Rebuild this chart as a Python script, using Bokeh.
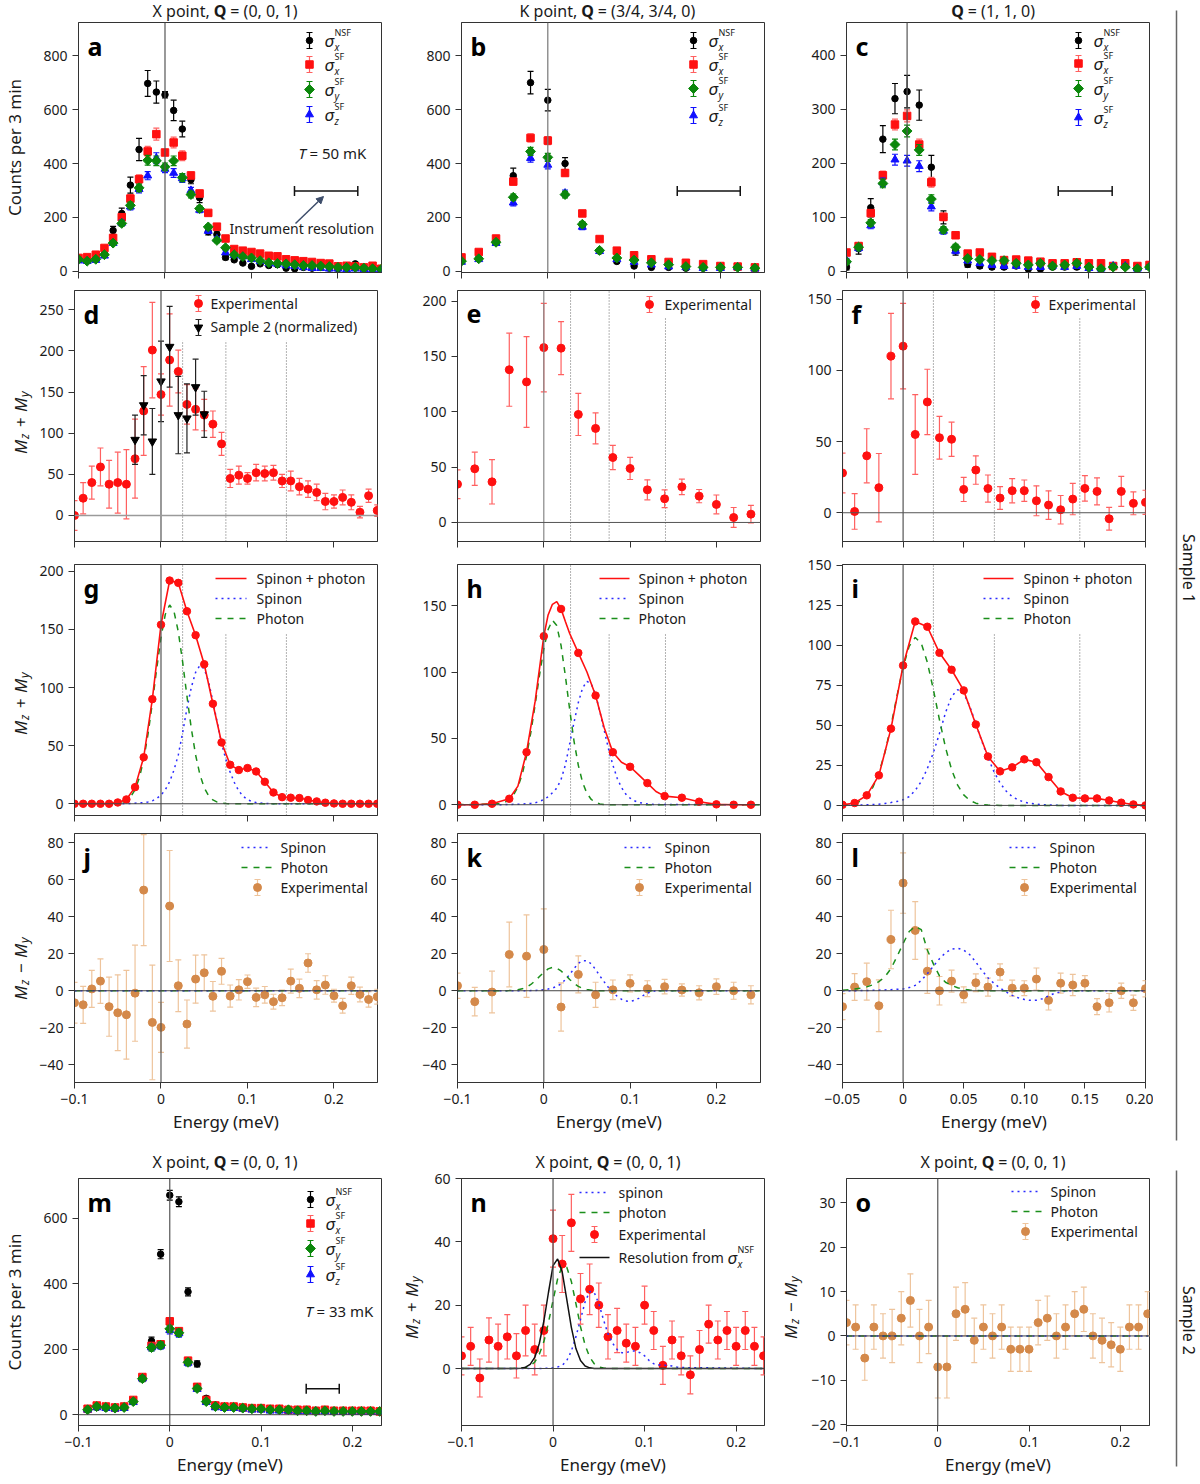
import numpy as np
from bokeh.plotting import figure
from bokeh.models import (Range1d, FixedTicker, Label, Span, Arrow, NormalHead,
                          CustomJSTickFormatter)
from bokeh.layouts import row, column
from bokeh.embed import file_html
from bokeh.resources import INLINE

FONT = "Noto Sans"
AXC = "#333333"
TXT = "#1a1a1a"
BLK = "#000000"
RED = "#ff1010"
RED_E = "#ff6060"
GRN = "#0b870b"
BLU = "#1010ff"
ORG = "#d4894a"
ORG_E = "#eec49c"
DOT = "#666666"
LBLU = "#2a2aff"
LGRN = "#1b8f1b"

# ======================= DATA =======================
E1 = [-0.10, -0.09, -0.08, -0.07, -0.06, -0.05, -0.04, -0.03, -0.02, -0.01,
      0.00, 0.01, 0.02, 0.03, 0.04, 0.05, 0.06, 0.07, 0.08, 0.09,
      0.10, 0.11, 0.12, 0.13, 0.14, 0.15, 0.16, 0.17, 0.18, 0.19,
      0.20, 0.21, 0.22, 0.23, 0.24, 0.25]
E2 = [-0.10, -0.08, -0.06, -0.04, -0.02, 0.00, 0.02, 0.04, 0.06, 0.08,
      0.10, 0.12, 0.14, 0.16, 0.18, 0.20, 0.22, 0.24]
E3 = [-0.05, -0.04, -0.03, -0.02, -0.01, 0.00, 0.01, 0.02, 0.03, 0.04,
      0.05, 0.06, 0.07, 0.08, 0.09, 0.10, 0.11, 0.12, 0.13, 0.14,
      0.15, 0.16, 0.17, 0.18, 0.19, 0.20]
E5 = [-0.10, -0.09, -0.08, -0.07, -0.06, -0.05, -0.04, -0.03, -0.02, -0.01,
      0.00, 0.01, 0.02, 0.03, 0.04, 0.05, 0.06, 0.07, 0.08, 0.09,
      0.10, 0.11, 0.12, 0.13, 0.14, 0.15, 0.16, 0.17, 0.18, 0.19,
      0.20, 0.21, 0.22, 0.23]
EM = [-0.09, -0.08, -0.07, -0.06, -0.05, -0.04, -0.03, -0.02, -0.01,
      0.00, 0.01, 0.02, 0.03, 0.04, 0.05, 0.06, 0.07, 0.08, 0.09,
      0.10, 0.11, 0.12, 0.13, 0.14, 0.15, 0.16, 0.17, 0.18, 0.19,
      0.20, 0.21, 0.22, 0.23]
# model-curve energy grids
G1 = [-0.10, -0.05, -0.045, -0.04, -0.035, -0.03, -0.025, -0.02, -0.015, -0.01,
      -0.005, 0.0, 0.005, 0.01, 0.015, 0.02, 0.025, 0.03, 0.035, 0.04,
      0.045, 0.05, 0.055, 0.06, 0.065, 0.07, 0.075, 0.08, 0.085, 0.09,
      0.095, 0.10, 0.105, 0.11, 0.115, 0.12, 0.125, 0.13, 0.25]
G3 = [-0.05, -0.045, -0.04, -0.035, -0.03, -0.025, -0.02, -0.015, -0.01, -0.005,
      0.0, 0.005, 0.01, 0.015, 0.02, 0.025, 0.03, 0.035, 0.04, 0.045,
      0.05, 0.055, 0.06, 0.065, 0.07, 0.075, 0.08, 0.085, 0.09, 0.095,
      0.10, 0.105, 0.11, 0.115, 0.12, 0.125, 0.13, 0.135, 0.14, 0.20]
GN = [-0.10, -0.05, -0.045, -0.04, -0.035, -0.03, -0.025, -0.02, -0.015, -0.01,
      -0.005, 0.0, 0.005, 0.01, 0.015, 0.02, 0.025, 0.03, 0.035, 0.04,
      0.045, 0.05, 0.055, 0.06, 0.065, 0.07, 0.075, 0.08, 0.085, 0.09,
      0.095, 0.10, 0.105, 0.11, 0.115, 0.12, 0.125, 0.13, 0.135, 0.14, 0.23]
ELINE1 = [-0.10, 0.25]
ELINE5 = [-0.10, 0.23]
ZERO2 = [0, 0]

# ---- panel a : X point, sample 1 ----
a_nsf = [50, 45, 48, 65, 152, 215, 320, 452, 697, 665, 655, 597, 528, 340, 273, 147, 137, 52, 43, 31,
         19, 28, 22, 25, 12, 10, 15, 12, 15, 12, 10, 12, 28, 12, 8, 5]
a_nsf_e = [8, 6, 6, 8, 15, 20, 30, 41, 48, 41, 12, 38, 29, 15, 18, 12, 12, 8, 6, 5,
           4, 5, 4, 4, 3, 3, 3, 3, 3, 3, 3, 3, 6, 3, 3, 3]
a_x = [50, 53, 62, 87, 124, 201, 270, 342, 445, 509, 441, 478, 429, 356, 289, 217, 166, 122, 83, 77,
       72, 66, 58, 56, 45, 41, 38, 35, 31, 29, 19, 21, 19, 15, 21, 10]
a_x_e = [6, 6, 7, 8, 10, 12, 14, 16, 19, 22, 8, 20, 18, 12, 12, 8, 8, 7, 6, 6,
         6, 5, 5, 5, 5, 5, 4, 4, 4, 4, 4, 4, 4, 4, 4, 4]
a_y = [45, 38, 45, 62, 105, 178, 245, 310, 412, 410, 388, 410, 348, 285, 233, 165, 115, 88, 62, 55,
       50, 40, 32, 30, 28, 25, 22, 22, 20, 18, 15, 15, 15, 12, 10, 8]
a_y_e = [5, 5, 5, 6, 8, 10, 12, 14, 18, 18, 14, 18, 15, 12, 10, 9, 8, 7, 6, 6,
         5, 5, 5, 5, 4, 4, 4, 4, 4, 4, 4, 4, 4, 4, 4, 4]
a_z = [40, 38, 42, 58, 105, 180, 240, 305, 355, 420, 380, 365, 345, 300, 228, 150, 120, 70, 60, 55,
       45, 38, 30, 28, 22, 20, 15, 12, 12, 10, 10, 8, 10, 8, 8, 5]
a_z_e = [5, 5, 5, 6, 8, 10, 12, 14, 15, 20, 14, 16, 15, 12, 10, 9, 8, 7, 6, 6,
         5, 5, 5, 5, 4, 4, 4, 4, 4, 4, 4, 4, 4, 4, 4, 4]
RES_A = [0.1497, 0.2229]
RES_A_Y = 298

# ---- panel b : K point ----
b_nsf = [40, 48, 108, 355, 700, 635, 400, 170, 75, 37, 20, 15, 15, 12, 12, 12, 15, 10]
b_nsf_e = [6, 7, 10, 28, 42, 40, 22, 12, 8, 6, 5, 4, 4, 4, 4, 4, 6, 4]
b_x = [52, 72, 122, 333, 495, 485, 365, 215, 120, 77, 60, 45, 35, 32, 27, 20, 18, 15]
b_x_e = [5, 6, 8, 12, 15, 15, 12, 10, 8, 7, 6, 5, 5, 5, 5, 4, 4, 4]
b_y = [38, 47, 108, 275, 445, 423, 285, 175, 78, 50, 42, 32, 25, 18, 15, 15, 15, 12]
b_y_e = [5, 6, 8, 12, 15, 15, 12, 10, 8, 7, 6, 5, 5, 5, 5, 4, 4, 4]
b_z = [35, 45, 105, 255, 420, 395, 290, 165, 75, 45, 35, 25, 18, 15, 12, 12, 15, 10]
b_z_e = [5, 6, 8, 12, 15, 15, 12, 10, 8, 7, 6, 5, 5, 5, 5, 4, 4, 4]
RES_B = [0.150, 0.223]
RES_B_Y = 298

# ---- panel c : Q = (1,1,0) ----
c_nsf = [8, 42, 118, 245, 320, 333, 308, 193, 100, 38, 13, 10, 8, 8, 10, 5, 5, 8, 8, 8,
         6, 5, 8, 15, 5, 12]
c_nsf_e = [5, 10, 17, 25, 28, 30, 28, 22, 12, 8, 5, 4, 4, 4, 4, 4, 4, 4, 4, 4,
           4, 4, 4, 6, 4, 5]
c_x = [35, 47, 108, 178, 272, 288, 235, 165, 101, 67, 33, 35, 27, 21, 22, 20, 18, 15, 15, 17,
       15, 15, 10, 15, 10, 12]
c_x_e = [4, 5, 6, 8, 10, 11, 10, 9, 7, 5, 4, 4, 4, 4, 4, 4, 4, 4, 4, 4,
         4, 4, 4, 4, 4, 4]
c_y = [18, 45, 90, 163, 235, 260, 225, 134, 77, 45, 24, 22, 20, 20, 15, 12, 15, 10, 12, 15,
       8, 5, 8, 8, 5, 8]
c_y_e = [4, 5, 6, 8, 10, 11, 10, 8, 6, 5, 4, 4, 4, 4, 4, 4, 4, 4, 4, 4,
         4, 4, 4, 4, 4, 4]
c_z = [20, 43, 85, 165, 207, 205, 195, 120, 75, 38, 20, 15, 12, 10, 10, 8, 8, 10, 8, 10,
       6, 5, 10, 10, 5, 8]
c_z_e = [4, 5, 6, 8, 10, 10, 10, 8, 6, 5, 4, 4, 4, 4, 4, 4, 4, 4, 4, 4,
         4, 4, 4, 4, 4, 4]
RES_C = [0.1247, 0.1692]
RES_C_Y = 149

# ---- panel d ----
d_exp = [0, 21, 40, 59, 38, 40, 38, 69, 127, 201, 147, 189, 175, 135, 129, 122, 111, 87, 45, 49,
         45, 52, 51, 52, 42, 42, 35, 32, 28, 17, 17, 22, 16, 4, 24, 6]
d_err = [18, 19, 20, 23, 29, 37, 42, 48, 54, 58, 25, 56, 26, 24, 25, 19, 16, 14, 11, 11,
         7, 10, 9, 9, 8, 12, 10, 10, 10, 10, 8, 9, 9, 7, 8, 7]
d_s2_E = [-0.03, -0.02, -0.01, 0.00, 0.01, 0.02, 0.03, 0.04, 0.05]
d_s2 = [92, 134, 90, 163, 205, 122, 118, 156, 123]
d_s2_e = [30, 36, 40, 49, 49, 47, 42, 34, 28]
DOTS1 = [0.025, 0.075, 0.145]
DOTS2 = [0.031, 0.0757, 0.141]
DOTS3 = [0.025, 0.0753, 0.1458]

# ---- panel e ----
e_exp = [34.6, 48.5, 36.7, 138, 127, 158, 157.5, 97.6, 85, 58.7, 48.8, 29.5, 21.4, 32.2, 23.8, 16.3, 4.5, 7.5]
e_err = [13, 15, 20, 33, 41, 40, 24, 19, 14, 11, 10, 9, 8, 7, 6, 8.5, 9, 8]

# ---- panel f ----
f_exp = [27.9, 0.9, 40, 17.6, 110, 117, 55, 77.8, 52.7, 51.6, 16.4, 30, 17, 10.3, 15.5, 15.5, 8.4, 5.4,
         2.1, 9.6, 17.1, 15, -4.2, 15, 6.6, 7.3]
f_err = [14, 12.5, 19, 24, 30, 30, 28, 23, 15, 12, 8.5, 10, 9.5, 8, 8.5, 7.5, 10.5, 10,
         10, 11, 9, 9.5, 8, 10.5, 8, 8.5]

# ---- panel g (fit) ----
g_fit = [0, 0, 0, 0, 0, 1.1, 3.7, 14.3, 40, 90, 154, 192, 190, 165.6, 145, 120, 86, 52.7, 33.5, 29,
         30.7, 27.8, 18.9, 9.7, 5.7, 5.2, 4.9, 3.2, 2, 0.9, 0.3, 0, 0, 0, 0, 0]
g_photon = [0, 0.46, 1.2, 2.8, 6.0, 12.1, 22.4, 38.1, 59.8, 86.8, 116, 143, 163, 171, 165.5, 148,
            122, 92.5, 65, 42, 25, 13.7, 7, 3.3, 1.4, 0.6, 0.2, 0, 0, 0, 0, 0, 0, 0, 0, 0, 0, 0, 0]
g_spinon = [0, 0, 0.05, 0.2, 0.3, 0.5, 0.7, 1.0, 1.6, 2.5, 4.5, 7.5, 12, 19, 29, 42, 61, 82, 100,
            113, 119, 116, 105, 88, 70, 52, 38, 27, 18, 11, 6.5, 3.5, 2, 1, 0.6, 0.3, 0.1, 0, 0]

# ---- panel h (fit) ----
h_pts = [0, 0, 0.75, 4.5, 39.6, 127, 147.5, 114.4, 82.3, 39.6, 28.6, 16.3, 6.5, 5.3, 2.3, 0.3, 0, 0]
h_curve_E = [-0.10, -0.08, -0.06, -0.04, -0.03, -0.02, -0.01, 0.0, 0.005, 0.01, 0.015, 0.02, 0.025,
             0.03, 0.04, 0.05, 0.06, 0.07, 0.08, 0.09, 0.10, 0.11, 0.12, 0.13, 0.14, 0.16, 0.18,
             0.20, 0.22, 0.24]
h_curve = [0, 0, 0.75, 4.5, 14, 39.6, 78, 127, 143, 151, 153, 147.5, 138, 129, 114.4, 100, 82.3,
           58, 39.6, 32, 28.6, 22.5, 16.3, 10, 6.5, 5.3, 2.3, 0.3, 0, 0]
h_photon = [0, 0.8, 1.8, 3.8, 7.4, 13.5, 23, 36.7, 54.5, 75.5, 97.5, 117.6, 132, 139, 135, 120, 97,
            71.7, 48, 29.7, 16.7, 8.5, 4, 1.7, 0.65, 0.23, 0.08, 0, 0, 0, 0, 0, 0, 0, 0, 0, 0, 0, 0]
h_spinon = [0, 0.05, 0.1, 0.2, 0.3, 0.4, 0.55, 0.7, 1.0, 1.5, 2.5, 4, 6, 9, 12.5, 19, 30, 46, 62,
            77, 88, 93, 91, 83, 70, 56, 42, 30, 20, 13, 8, 5, 3, 1.8, 1.1, 0.6, 0.35, 0.2, 0]

# ---- panel i (fit) ----
i_fit = [0.4, 1.5, 6.3, 18.8, 48, 87.5, 115, 111.7, 95.4, 84.8, 71.9, 50.6, 30.6, 21.3, 23.8, 28.8,
         27, 17.7, 8.75, 4.8, 4.4, 4.4, 3.1, 1.7, 0.6, 0]
i_photon = [0.16, 0.45, 1.1, 2.7, 5.7, 11.3, 20.2, 33.1, 49.8, 68.6, 86.4, 99.5, 105, 101.3, 89.5,
            72.3, 53.5, 36.2, 22.4, 12.7, 6.6, 3.1, 1.4, 0.5, 0.2, 0.05, 0, 0, 0, 0, 0, 0, 0, 0,
            0, 0, 0, 0, 0, 0]
i_spinon = [0.1, 0.15, 0.2, 0.3, 0.4, 0.55, 0.8, 1.2, 1.8, 2.5, 3.5, 5.5, 9.4, 15, 23, 33, 45, 58,
            68, 72.3, 70, 62, 51, 40, 30, 21, 14, 9, 5.5, 3.5, 2, 1.3, 0.8, 0.5, 0.3, 0.15, 0, 0,
            0, 0]

# ---- panel j ----
j_exp = [-6.5, -7.6, 1, 5.2, -8.6, -11.9, -13, -1.3, 54.4, -17.1, -19.8, 45.8, 2.7, -18, 6.3, 9.7,
         -3, 10.5, -2.9, 0.5, 4.9, -3.6, -2.2, -5.9, -3.8, 5.2, 1.3, 15, 0.5, 3.1, -2.7, -8.1, 2.7,
         -2, -4.7, -3.2]
j_err = [11, 10, 10, 12, 16, 20.5, 24, 26, 30, 31, 13.5, 30, 14, 13, 13, 9.7, 8, 7, 6, 5.5, 3.6, 5,
         4.5, 4, 4.2, 6.5, 5, 5, 5, 5, 3.5, 4, 4.7, 4, 4.2, 4]

# ---- panel k ----
k_exp = [2.7, -5.9, -0.7, 19.6, 18.7, 22.3, -8.8, 8.8, -2.2, 0.5, 4, 1.1, 2.2, 0.4, -1.1, 2.2, 0, -2.2]
k_err = [6.8, 7.7, 11.3, 17.5, 22.3, 22, 13, 10, 6.8, 5.3, 4.6, 4.3, 3.9, 3.3, 3.8, 4.2, 4.6, 4.9]
k_photon = [0, 0.02, 0.05, 0.08, 0.21, 0.49, 1.03, 2.0, 3.4, 5.4, 7.7, 10, 11.8, 12.6, 12.2, 10.7,
            8.5, 6.1, 4.0, 2.4, 1.3, 0.63, 0.28, 0.11, 0.04, 0, 0, 0, 0, 0, 0, 0, 0, 0, 0, 0, 0, 0, 0]
k_spinon = [0, 0, 0, 0, 0, 0, 0.02, 0.04, 0.07, 0.1, 0.3, 0.5, 0.9, 1.5, 2.3, 3.8, 6, 8.8, 12,
            14.8, 16.3, 16.2, 14.5, 11.5, 8, 4.8, 1.7, -0.8, -3, -4.6, -5.6, -5.8, -5.2, -4.1,
            -2.6, -1.3, -0.4, 0, 0]

# ---- panel l ----
l_exp = [-8.6, 2, 4.9, -8.1, 27.7, 58.2, 32.6, 10.6, 0, 5.2, -2.2, 4.3, 2, 10.1, 1.4, 1.4, 6.3, -5.2,
         4.1, 3.1, 4.1, -8.6, -6.5, 0, -6.5, 1.1]
l_err = [7, 7.2, 10, 14, 15.8, 16.3, 15.6, 12, 7.7, 5.9, 4.3, 4.8, 4.9, 4.4, 4.3, 4, 6, 5.2, 5.4, 5.7,
         4.1, 4.3, 5, 4.1, 4.1, 4.4]
l_photon = [0.3, 0.5, 0.9, 1.4, 2.1, 3.2, 4.9, 7.5, 12, 18.5, 25.5, 32, 34.8, 33, 22, 14.5, 8, 4.6,
            2.9, 1.6, 0.8, 0.4, 0.15, 0, 0, 0, 0, 0, 0, 0, 0, 0, 0, 0, 0, 0, 0, 0, 0, 0]
l_spinon = [0, 0, 0.05, 0.08, 0.1, 0.2, 0.3, 0.45, 0.6, 0.8, 1, 1.7, 2.9, 5.5, 9.2, 13.3, 17.3, 20.5,
            22.5, 23, 22, 19.5, 15.5, 11, 7, 4, 1.5, -0.7, -2.5, -3.8, -4.7, -5.2, -5.1, -4.3,
            -2.8, -1.4, -0.6, -0.2, 0, 0]

# ---- panel m : sample 2 ----
m_nsf = [15, 22, 20, 18, 22, 40, 110, 225, 490, 670, 650, 375, 155, 50, 30, 25, 22, 20, 18,
         18, 15, 15, 15, 12, 15, 12, 12, 10, 12, 10, 10, 10, 10]
m_nsf_e = [4, 5, 5, 4, 5, 6, 9, 12, 14, 15, 15, 12, 9, 6, 5, 5, 5, 4, 4,
           4, 4, 4, 4, 4, 4, 4, 4, 4, 4, 4, 4, 4, 4]
m_x = [18, 28, 25, 22, 25, 45, 115, 210, 215, 285, 255, 165, 85, 45, 28, 25, 25, 22, 20,
       20, 18, 18, 15, 15, 15, 12, 15, 12, 12, 12, 12, 12, 10]
m_y = [15, 25, 22, 20, 22, 40, 110, 205, 212, 262, 250, 160, 80, 40, 25, 22, 22, 20, 18,
       18, 15, 15, 15, 12, 12, 10, 12, 10, 10, 10, 10, 10, 10]
m_z = [15, 22, 20, 18, 20, 38, 110, 205, 210, 258, 248, 158, 78, 38, 22, 20, 20, 18, 15,
       15, 12, 12, 12, 10, 10, 10, 10, 8, 8, 8, 8, 8, 8]
m_sf_e = [4, 5, 5, 4, 5, 6, 8, 10, 10, 11, 11, 9, 7, 5, 4, 4, 4, 4, 4,
          4, 4, 4, 4, 4, 4, 4, 4, 4, 4, 4, 4, 4, 4]
RES_M = [0.1495, 0.1857]
RES_M_Y = 79

# ---- panel n ----
n_exp = [4, 7, -3, 9, 7, 10, 4, 12, 6, 12, 41, 33, 46, 22, 25, 20, 10, 12, 8, 7,
         20, 12, 1, 9, 4, -2, 6, 14, 9, 12, 7, 12, 7, 4]
n_err = [6, 6, 6, 7, 7, 7, 7, 8, 8, 8, 9, 9, 9, 8, 8, 7, 7, 7, 6, 6,
         6, 6, 6, 6, 6, 6, 6, 6, 6, 6, 6, 6, 6, 6]
n_res = [0, 0, 0, 0, 0.1, 0.4, 1.3, 3.5, 7.9, 15, 24, 32.5, 34.6, 30.5, 21.8, 13, 6.3, 2.5, 0.8, 0.2,
         0, 0, 0, 0, 0, 0, 0, 0, 0, 0, 0, 0, 0, 0, 0, 0, 0, 0, 0, 0, 0]
n_photon = [0, 0, 0, 0.05, 0.1, 0.3, 0.8, 2, 4.5, 8.5, 14.5, 21.5, 28.3, 32.4, 32, 27.5, 20.5, 13.2,
            7.4, 3.6, 1.5, 0.5, 0.15, 0, 0, 0, 0, 0, 0, 0, 0, 0, 0, 0, 0, 0, 0, 0, 0, 0, 0]
n_spinon = [0, 0, 0, 0, 0, 0, 0, 0, 0, 0.05, 0.1, 0.2, 0.5, 1, 2.5, 5.5, 10, 15.5, 21, 24.3, 24,
            20.5, 15.5, 11, 8, 6, 5, 5, 5.5, 5.5, 5, 4, 2.5, 1.5, 1.2, 1, 1, 0.8, 0.5, 0.3, 0]

# ---- panel o ----
o_exp = [3, 2, -5, 2, 0, 0, 4, 8, 0, 2, -7, -7, 5, 6, -1, 2, 0, 2, -3, -3,
         -3, 3, 4, 0, 2, 5, 6, 0, -1, -2, -3, 2, 2, 5]
o_err = [5, 5, 5, 5, 5, 6, 6, 6, 6, 6, 7, 7, 6, 6, 5, 5, 5, 5, 5, 5,
         5, 5, 5, 5, 5, 5, 5, 5, 5, 5, 5, 5, 5, 5]

# ======================= LAYOUT =======================
FW = 303
ROWS = [(1, 250, 12), (6, 251, 10), (13, 251, 8), (10, 249, 52), (5, 247, 56)]
TOTW = 1152
STRIP1_H = 21
STRIP2_H = 38
LABW = 36

FMT = {
    "none": "return '';",
    "1": "if (Math.abs(tick) < 1e-9) { return '0'; } return (tick < 0 ? '\u2212' : '') + Math.abs(tick).toFixed(1);",
    "2": "if (Math.abs(tick) < 1e-9) { return '0'; } return (tick < 0 ? '\u2212' : '') + Math.abs(tick).toFixed(2);",
    "int": "if (Math.abs(tick) < 1e-9) { return '0'; } return (tick < 0 ? '\u2212' : '') + Math.abs(tick).toFixed(0);",
}


def arr(v):
    return np.asarray(v, dtype=float)


def plain(w, h):
    """A bare figure whose frame covers the whole canvas; data units = pixels (y downwards)."""
    f = figure(x_range=Range1d(0, w), y_range=Range1d(h, 0), frame_width=w, frame_height=h,
               min_border=0, x_axis_location=None, y_axis_location=None,
               output_backend="svg", toolbar_location=None)
    f.grid.visible = False
    f.outline_line_color = None
    f.background_fill_color = "white"
    f.border_fill_color = "white"
    return f


def flab(f, x, y, s, size=16, style="normal", align="left", baseline="middle", angle=0.0,
         color=TXT):
    f.add_layout(Label(x=x, y=y, text=s, text_font=FONT, text_font_size=f"{size}px",
                       text_font_style=style, text_align=align, text_baseline=baseline,
                       angle=angle, text_color=color))


def ftitle(f, cx, cy, pre, pre_w, post, post_w):
    qw, gap = 12.6, 4
    total = (pre_w + gap if pre else 0) + qw + gap + post_w
    left = cx - total / 2
    if pre:
        flab(f, left + pre_w, cy, pre, align="right")
        qx = left + pre_w + gap
    else:
        qx = left
    flab(f, qx, cy, "Q", style="bold")
    flab(f, qx + qw + gap, cy, post)


def mlabel_fig(ri, xb, sign, w=LABW):
    bt, fh, bb = ROWS[ri]
    h = bt + fh + bb
    f = plain(w, h)
    parts = [("M", 17, "italic", 15, 0), ("z", 12, "italic", 7, 4), ("", 0, "", 5, 0),
             (sign, 17, "normal", 10, 0), ("", 0, "", 5, 0), ("M", 17, "italic", 15, 0),
             ("y", 12, "italic", 7, 4)]
    total = sum(p[3] for p in parts)
    y = bt + fh / 2 + total / 2
    for t, s, st, ww, sh in parts:
        if t:
            flab(f, xb + sh, y, t, size=s, style=st, baseline="alphabetic", angle=np.pi / 2)
        y -= ww
    return f


class Pn:
    def __init__(self, bl, br, ri, xr, yr, xt, yt, xfmt, ylabel=None, xlabel=None):
        bt, fh, bb = ROWS[ri]
        self.x0, self.x1 = xr
        self.y0, self.y1 = yr
        self.fw, self.fh = FW, fh
        p = figure(x_range=Range1d(*xr), y_range=Range1d(*yr), frame_width=FW, frame_height=fh,
                   min_border_left=bl, min_border_right=br, min_border_top=bt,
                   min_border_bottom=bb, output_backend="svg", toolbar_location=None)
        p.grid.visible = False
        p.outline_line_color = AXC
        p.outline_line_width = 1
        p.background_fill_color = "white"
        p.border_fill_color = "white"
        for ax in (p.xaxis[0], p.yaxis[0]):
            ax.axis_line_color = AXC
            ax.major_tick_line_color = AXC
            ax.major_tick_in = 0
            ax.major_tick_out = 6
            ax.minor_tick_line_color = None
            ax.major_label_text_font = FONT
            ax.major_label_text_font_size = "14px"
            ax.major_label_text_color = TXT
            ax.major_label_standoff = 5
            ax.axis_label_text_font = FONT
            ax.axis_label_text_font_size = "17px"
            ax.axis_label_text_font_style = "normal"
            ax.axis_label_text_color = TXT
            ax.axis_label_standoff = 3
        xa, ya = p.xaxis[0], p.yaxis[0]
        xa.ticker = FixedTicker(ticks=xt)
        ya.ticker = FixedTicker(ticks=yt)
        xa.formatter = CustomJSTickFormatter(code=FMT[xfmt])
        ya.formatter = CustomJSTickFormatter(code=FMT["int"])
        if xfmt == "none":
            xa.major_label_text_font_size = "1px"
            xa.major_label_standoff = 0
        if xlabel:
            xa.axis_label = xlabel
        if ylabel:
            ya.axis_label = ylabel
            ya.axis_label_standoff = 14
        self.p = p

    # pixel offsets (from frame top-left) -> data
    def X(self, px):
        return self.x0 + px / self.fw * (self.x1 - self.x0)

    def Y(self, py):
        return self.y1 - py / self.fh * (self.y1 - self.y0)

    def lab(self, px, py, s, size=14, style="normal", align="left", baseline="middle",
            color=TXT, angle=0.0):
        self.p.add_layout(Label(x=self.X(px), y=self.Y(py), text=s, text_font=FONT,
                                text_font_size=f"{size}px", text_font_style=style,
                                text_align=align, text_baseline=baseline,
                                text_color=color, angle=angle))

    def letter(self, s):
        self.lab(9, 23, s, size=25, style="bold", baseline="alphabetic", color="#000000")

    def vline0(self, color="#555555", width=1.2):
        self.p.add_layout(Span(location=0, dimension="height", line_color=color,
                               line_width=width))

    def hline0(self, color="#444444", width=1.0):
        self.p.add_layout(Span(location=0, dimension="width", line_color=color,
                               line_width=width))

    def dotted(self, xs, tops):
        for x, t in zip(xs, tops):
            self.p.segment(x0=[x], y0=[self.y0], x1=[x], y1=[self.y1 if t is None else t],
                           line_color=DOT, line_dash="1 2", line_width=1)

    def errbar(self, x, y, e, color, ecolor, marker, size, angle=0.0, ealpha=1.0, cap=6):
        x, y, e = arr(x), arr(y), arr(e)
        self.p.segment(x, y - e, x, y + e, line_color=ecolor, line_width=1.2, line_alpha=ealpha)
        self.p.scatter(np.r_[x, x], np.r_[y - e, y + e], marker="dash", size=cap,
                       line_color=ecolor, line_width=1.2, line_alpha=ealpha)
        self.p.scatter(x, y, marker=marker, size=size, fill_color=color, line_color=color,
                       angle=angle)

    def leg_err(self, px, py, color, ecolor, marker, size, angle=0.0, half=8, ealpha=1.0):
        x = self.X(px)
        self.p.segment([x], [self.Y(py + half)], [x], [self.Y(py - half)], line_color=ecolor,
                       line_width=1.2, line_alpha=ealpha)
        self.p.scatter([x, x], [self.Y(py + half), self.Y(py - half)], marker="dash", size=6,
                       line_color=ecolor, line_width=1.2, line_alpha=ealpha)
        self.p.scatter([x], [self.Y(py)], marker=marker, size=size, fill_color=color,
                       line_color=color, angle=angle)

    def leg_line(self, px0, px1, py, color, dash, width):
        self.p.line([self.X(px0), self.X(px1)], [self.Y(py), self.Y(py)], line_color=color,
                    line_dash=dash, line_width=width)

    def sigma(self, px, py, sup, sub):
        self.lab(px, py, "\u03c3", size=17, style="italic")
        self.lab(px + 10, py - 8, sup, size=9)
        self.lab(px + 10, py + 6, sub, size=10, style="italic")

    def sigma_legend(self, mx, dys):
        entries = [(BLK, BLK, "circle", 6.5, 0.0, "NSF", "x"),
                   (RED, RED_E, "square", 7.5, 0.0, "SF", "x"),
                   (GRN, GRN, "square", 7, np.pi / 4, "SF", "y"),
                   (BLU, BLU, "triangle", 8, 0.0, "SF", "z")]
        for (c, ec, mk, sz, ang, sup, sub), dy in zip(entries, dys):
            self.leg_err(mx, dy, c, ec, mk, sz, angle=ang)
            self.sigma(mx + 15, dy, sup, sub)

    def resbar(self, xs, y):
        h = 5 * (self.y1 - self.y0) / self.fh
        self.p.segment([xs[0]], [y], [xs[1]], [y], line_color="#111111", line_width=1.5)
        for xv in xs:
            self.p.segment([xv], [y - h], [xv], [y + h], line_color="#111111", line_width=1.5)

    def four(self, E, nsf, nsf_e, sx, sx_e, sy, sy_e, sz, sz_e):
        self.errbar(E, nsf, nsf_e, BLK, BLK, "circle", 6.5)
        self.errbar(E, sx, sx_e, RED, RED_E, "square", 7.5)
        self.errbar(E, sz, sz_e, BLU, BLU, "triangle", 8)
        self.errbar(E, sy, sy_e, GRN, GRN, "square", 7, angle=np.pi / 4)

    def curve(self, E, v, color, dash, width=1.5):
        self.p.line(arr(E), arr(v), line_color=color, line_dash=dash, line_width=width)


XR1 = (-0.1, 0.2503)
XR2 = (-0.1, 0.2511)
XR3 = (-0.05, 0.2)
XT12 = [-0.1, 0, 0.1, 0.2]
XT3 = [-0.05, 0, 0.05, 0.1, 0.15, 0.2]
EN = "Energy (meV)"
# frame centres (page x) of the three columns
CX = [224.5, 607.5, 992.5]

# ---------------- title strip 1 ----------------
strip1 = plain(TOTW, STRIP1_H)
for cx, pre, post, pw in [(CX[0], "X point,", "= (0, 0, 1)", 67),
                          (CX[1], "K point,", "= (3/4, 3/4, 0)", 98),
                          (CX[2], None, "= (1, 1, 0)", 67)]:
    ftitle(strip1, cx, 10.5, pre, 57 if pre else 0, post, pw)

# ---------------- row 1 ----------------
pa = Pn(73, 10, 0, XR1, (-4, 923), XT12, [0, 200, 400, 600, 800], "none",
        ylabel="Counts per 3 min")
pa.vline0()
pa.four(E1, a_nsf, a_nsf_e, a_x, a_x_e, a_y, a_y_e, a_z, a_z_e)
pa.letter("a")
pa.sigma_legend(231, [18, 42, 67, 92])
pa.lab(220, 130, "T", size=15, style="italic")
pa.lab(231, 130, "= 50 mK", size=15)
pa.resbar(RES_A, RES_A_Y)
pa.lab(151, 206, "Instrument resolution", size=14)
pa.p.add_layout(Arrow(end=NormalHead(size=7, fill_color="#3d4d6a", line_color="#3d4d6a"),
                      x_start=pa.X(217), y_start=pa.Y(201), x_end=pa.X(245), y_end=pa.Y(174),
                      line_color="#3d4d6a", line_width=1.5))

pb = Pn(70, 12, 0, XR2, (-4, 923), XT12, [0, 200, 400, 600, 800], "none")
pb.vline0("#777777")
pb.four(E2, b_nsf, b_nsf_e, b_x, b_x_e, b_y, b_y_e, b_z, b_z_e)
pb.letter("b")
pb.sigma_legend(232, [18, 42, 66, 93])
pb.resbar(RES_B, RES_B_Y)

pc = Pn(70, 8, 0, XR3, (-2, 461), XT3, [0, 100, 200, 300, 400], "none")
pc.vline0()
pc.four(E3, c_nsf, c_nsf_e, c_x, c_x_e, c_y, c_y_e, c_z, c_z_e)
pc.letter("c")
pc.sigma_legend(232, [18, 41, 66, 95])
pc.resbar(RES_C, RES_C_Y)

# ---------------- row 2 ----------------
BL1 = 73 - LABW
pd = Pn(BL1, 10, 1, XR1, (-31.6, 273.4), XT12, [0, 50, 100, 150, 200, 250], "none")
pd.vline0()
pd.hline0("#9a9a9a", 1.3)
pd.dotted(DOTS1, [212.7, 212.7, 212.7])
pd.errbar(E1, d_exp, d_err, RED, RED_E, "circle", 8)
pd.errbar(d_s2_E, d_s2, d_s2_e, BLK, "#222222", "inverted_triangle", 8.5)
pd.letter("d")
pd.leg_err(124, 13, RED, RED_E, "circle", 8)
pd.lab(136, 13, "Experimental")
pd.leg_err(124, 37, BLK, "#222222", "inverted_triangle", 8.5)
pd.lab(136, 36, "Sample 2 (normalized)")
lab_d = mlabel_fig(1, 20, "+")

pe = Pn(70, 12, 1, XR2, (-17.2, 209.6), XT12, [0, 50, 100, 150, 200], "none")
pe.vline0("#888888")
pe.hline0("#555555", 1.0)
pe.dotted(DOTS2, [None, None, 185])
pe.errbar(E2, e_exp, e_err, RED, RED_E, "circle", 8)
pe.letter("e")
pe.leg_err(192, 14, RED, RED_E, "circle", 8)
pe.lab(207, 14, "Experimental")

pf = Pn(70, 8, 1, XR3, (-20.2, 156.1), XT3, [0, 50, 100, 150], "none")
pf.vline0()
pf.hline0("#555555", 1.0)
pf.dotted(DOTS3, [None, None, 137])
pf.errbar(E3, f_exp, f_err, RED, RED_E, "circle", 8)
pf.letter("f")
pf.leg_err(193, 14, RED, RED_E, "circle", 8)
pf.lab(206, 14, "Experimental")


# ---------------- row 3 ----------------
def fit_legend(P, x0, x1, tx):
    P.leg_line(x0, x1, 14, RED, "solid", 1.6)
    P.lab(tx, 14, "Spinon + photon")
    P.leg_line(x0, x1, 34, LBLU, "dotted", 1.5)
    P.lab(tx, 34, "Spinon")
    P.leg_line(x0, x1, 54, LGRN, "dashed", 1.5)
    P.lab(tx, 54, "Photon")


pg = Pn(BL1, 10, 2, XR1, (-10.1, 205.8), XT12, [0, 50, 100, 150, 200], "none")
pg.vline0()
pg.hline0()
pg.dotted(DOTS1, [None, 146, 146])
pg.curve(G1, g_spinon, LBLU, "dotted")
pg.curve(G1, g_photon, LGRN, "dashed")
pg.curve(E1, g_fit, RED, "solid", 1.6)
pg.p.scatter(arr(E1), arr(g_fit), marker="circle", size=7.5, color=RED)
pg.letter("g")
fit_legend(pg, 141, 172, 182)
lab_g = mlabel_fig(2, 20, "+")

ph = Pn(70, 12, 2, XR2, (-8.1, 181), XT12, [0, 50, 100, 150], "none")
ph.vline0()
ph.hline0()
ph.dotted(DOTS2, [None, 128.7, 128.7])
ph.curve(G1, h_spinon, LBLU, "dotted")
ph.curve(G1, h_photon, LGRN, "dashed")
ph.curve(h_curve_E, h_curve, RED, "solid", 1.6)
ph.p.scatter(arr(E2), arr(h_pts), marker="circle", size=7.5, color=RED)
ph.letter("h")
fit_legend(ph, 142, 172, 181)

pi_ = Pn(70, 8, 2, XR3, (-6.3, 150.6), XT3, [0, 25, 50, 75, 100, 125, 150], "none")
pi_.vline0()
pi_.hline0()
pi_.dotted(DOTS3, [None, 107, 107])
pi_.curve(G3, i_spinon, LBLU, "dotted")
pi_.curve(G3, i_photon, LGRN, "dashed")
pi_.curve(E3, i_fit, RED, "solid", 1.6)
pi_.p.scatter(arr(E3), arr(i_fit), marker="circle", size=7.5, color=RED)
pi_.letter("i")
fit_legend(pi_, 141, 171, 181)


# ---------------- row 4 ----------------
def diff_legend(P, x0, x1, tx, mx, dys=(14, 34, 54)):
    P.leg_line(x0, x1, dys[0], LBLU, "dotted", 1.5)
    P.lab(tx, dys[0], "Spinon")
    P.leg_line(x0, x1, dys[1], LGRN, "dashed", 1.5)
    P.lab(tx, dys[1], "Photon")
    P.leg_err(mx, dys[2], ORG, ORG_E, "circle", 8)
    P.lab(tx, dys[2], "Experimental")


YT4 = [-40, -20, 0, 20, 40, 60, 80]
YR4 = (-49.6, 85)
pj = Pn(BL1, 10, 3, XR1, YR4, XT12, YT4, "1", xlabel=EN)
pj.vline0()
pj.hline0()
pj.errbar(E1, j_exp, j_err, ORG, ORG_E, "circle", 8)
pj.curve(ELINE1, ZERO2, LGRN, "dashed")
pj.curve(ELINE1, ZERO2, LBLU, "dotted")
pj.letter("j")
diff_legend(pj, 167, 197, 206, 183)
lab_j = mlabel_fig(3, 20, "\u2212")

pk = Pn(70, 12, 3, XR2, YR4, XT12, YT4, "1", xlabel=EN)
pk.vline0()
pk.hline0()
pk.errbar(E2, k_exp, k_err, ORG, ORG_E, "circle", 8)
pk.curve(G1, k_spinon, LBLU, "dotted")
pk.curve(G1, k_photon, LGRN, "dashed")
pk.letter("k")
diff_legend(pk, 167, 197, 207, 182)

pl = Pn(70, 8, 3, XR3, YR4, XT3, YT4, "2", xlabel=EN)
pl.vline0()
pl.hline0()
pl.errbar(E3, l_exp, l_err, ORG, ORG_E, "circle", 8)
pl.curve(G3, l_spinon, LBLU, "dotted")
pl.curve(G3, l_photon, LGRN, "dashed")
pl.letter("l")
diff_legend(pl, 167, 197, 207, 182)

# ---------------- title strip 2 ----------------
strip2 = plain(TOTW, STRIP2_H)
for cx in CX:
    ftitle(strip2, cx, 26, "X point,", 57, "= (0, 0, 1)", 67)

# ---------------- row 5 (sample 2) ----------------
pm = Pn(73, 10, 4, (-0.1, 0.232), (-33, 721), XT12, [0, 200, 400, 600], "1",
        ylabel="Counts per 3 min", xlabel=EN)
pm.vline0()
pm.hline0()
pm.four(EM, m_nsf, m_nsf_e, m_x, m_sf_e, m_y, m_sf_e, m_z, m_sf_e)
pm.letter("m")
pm.sigma_legend(232, [21, 45, 70, 96])
pm.lab(227, 132, "T", size=15, style="italic")
pm.lab(238, 132, "= 33 mK", size=15)
pm.resbar(RES_M, RES_M_Y)

LABW_O = 40
pn = Pn(70 - LABW, 4, 4, (-0.1, 0.231), (-18, 60), XT12, [0, 20, 40, 60], "1", xlabel=EN)
pn.vline0()
pn.hline0()
pn.errbar(E5, n_exp, n_err, RED, RED_E, "circle", 8)
pn.curve(GN, n_spinon, LBLU, "dotted")
pn.curve(GN, n_photon, LGRN, "dashed")
pn.curve(GN, n_res, "#111111", "solid", 1.5)
pn.letter("n")
pn.leg_line(118, 148, 14, LBLU, "dotted", 1.5)
pn.lab(157, 14, "spinon")
pn.leg_line(118, 148, 34, LGRN, "dashed", 1.5)
pn.lab(157, 34, "photon")
pn.leg_err(133, 56, RED, RED_E, "circle", 8)
pn.lab(157, 56, "Experimental")
pn.leg_line(118, 148, 79, "#111111", "solid", 1.5)
pn.lab(157, 79, "Resolution from")
pn.sigma(266, 79, "NSF", "x")
lab_n = mlabel_fig(4, 20, "+")

po = Pn(70 - LABW_O + 8, 8, 4, (-0.1, 0.232), (-20.2, 35.5), XT12, [-20, -10, 0, 10, 20, 30],
        "1", xlabel=EN)
po.vline0()
po.hline0()
po.errbar(E5, o_exp, o_err, ORG, ORG_E, "circle", 8)
po.curve(ELINE5, ZERO2, LGRN, "dashed")
po.curve(ELINE5, ZERO2, LBLU, "dotted")
po.letter("o")
diff_legend(po, 165, 195, 204, 179, dys=(13, 33, 53))
lab_o = mlabel_fig(4, 22, "\u2212", w=LABW_O)

# ---------------- side labels ----------------
H = STRIP1_H + STRIP2_H + sum(r[0] + r[1] + r[2] for r in ROWS)
SW = 46
side = plain(SW, H)
side.segment(x0=[19, 19], y0=[10, 1170], x1=[19, 19], y1=[1140, 1466], line_color="#666666",
             line_width=1.5)
flab(side, 31, 568, "Sample 1", size=16, align="center", angle=-np.pi / 2)
flab(side, 31, 1320, "Sample 2", size=16, align="center", angle=-np.pi / 2)

grid = column(strip1,
              row(pa.p, pb.p, pc.p),
              row(lab_d, pd.p, pe.p, pf.p),
              row(lab_g, pg.p, ph.p, pi_.p),
              row(lab_j, pj.p, pk.p, pl.p),
              strip2,
              row(pm.p, lab_n, pn.p, lab_o, po.p))
layout = row(grid, side)

open("out.html", "w").write(file_html(layout, INLINE))
